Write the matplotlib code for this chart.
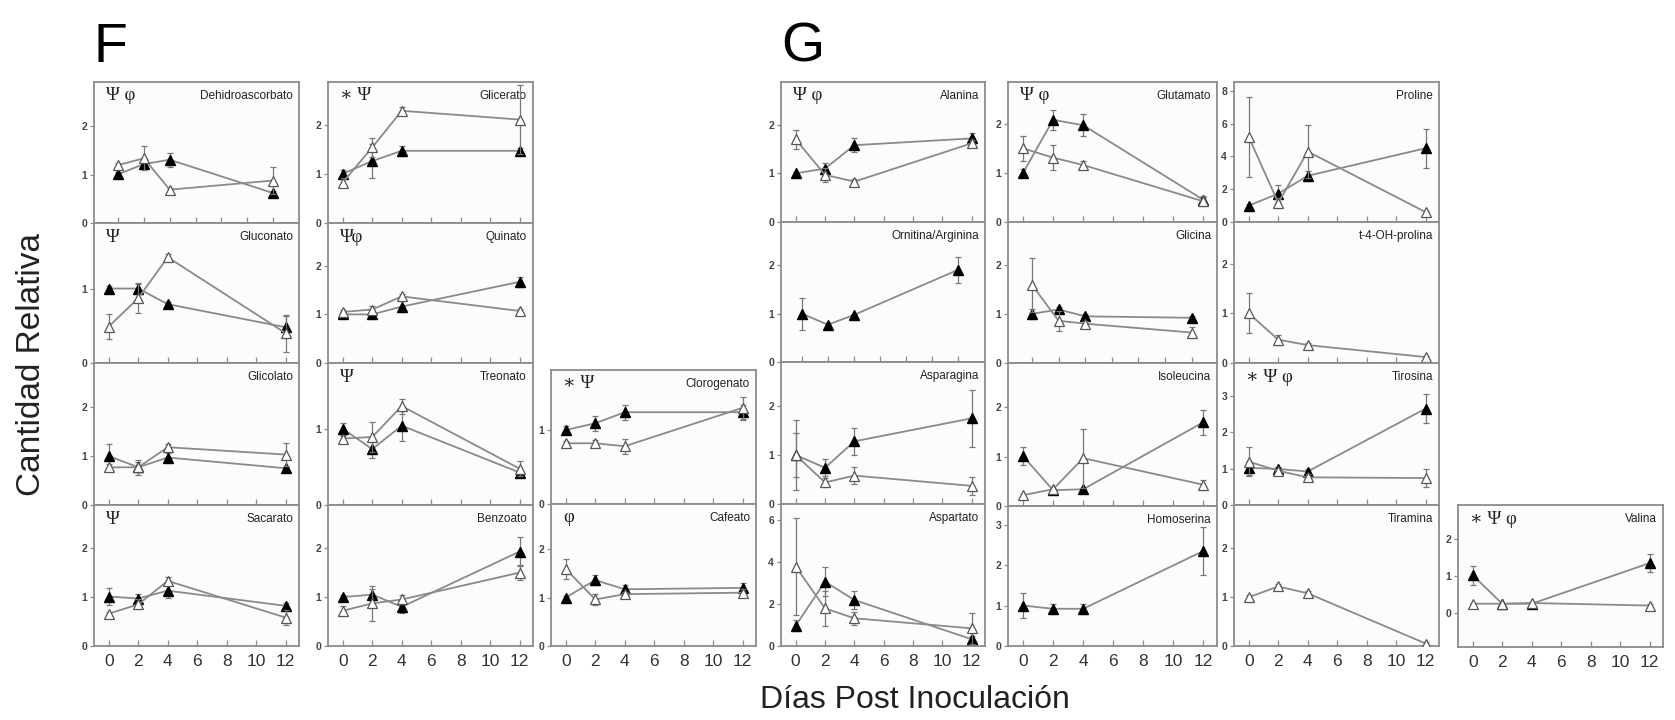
import numpy as np
import matplotlib
matplotlib.use('Agg')
import matplotlib.pyplot as plt

plt.rcParams['font.family'] = ['Liberation Sans', 'DejaVu Sans']

W, H = 1675, 720

days = [0, 2, 4, 12]

# --- F: organic acids ---
dehidro_fill = [1.01, 1.22, 1.31, 0.62]
dehidro_fill_err = [0.04, 0.10, 0.14, 0.05]
dehidro_open = [1.20, 1.34, 0.69, 0.88]
dehidro_open_err = [0.05, 0.25, 0.04, 0.27]

glucon_fill = [1.00, 1.00, 0.79, 0.48]
glucon_fill_err = [0.03, 0.06, 0.03, 0.15]
glucon_open = [0.49, 0.87, 1.42, 0.40]
glucon_open_err = [0.17, 0.20, 0.05, 0.25]

glicol_fill = [1.00, 0.77, 0.97, 0.75]
glicol_fill_err = [0.25, 0.10, 0.10, 0.03]
glicol_open = [0.77, 0.77, 1.18, 1.03]
glicol_open_err = [0.07, 0.15, 0.07, 0.23]

sacar_fill = [1.01, 0.97, 1.13, 0.82]
sacar_fill_err = [0.18, 0.10, 0.15, 0.05]
sacar_open = [0.66, 0.85, 1.33, 0.58]
sacar_open_err = [0.03, 0.10, 0.08, 0.15]

glicer_fill = [1.01, 1.27, 1.48, 1.48]
glicer_fill_err = [0.08, 0.35, 0.10, 0.05]
glicer_open = [0.83, 1.55, 2.30, 2.12]
glicer_open_err = [0.10, 0.20, 0.07, 0.70]

quin_fill = [1.00, 1.00, 1.16, 1.67]
quin_fill_err = [0.03, 0.10, 0.12, 0.10]
quin_open = [1.05, 1.10, 1.37, 1.07]
quin_open_err = [0.04, 0.08, 0.05, 0.04]

treon_fill = [1.01, 0.74, 1.05, 0.43]
treon_fill_err = [0.08, 0.12, 0.20, 0.04]
treon_open = [0.88, 0.90, 1.31, 0.48]
treon_open_err = [0.04, 0.20, 0.10, 0.10]

benz_fill = [1.00, 1.05, 0.80, 1.93]
benz_fill_err = [0.04, 0.12, 0.12, 0.30]
benz_open = [0.72, 0.87, 0.95, 1.50]
benz_open_err = [0.10, 0.35, 0.10, 0.15]

cloro_fill = [1.00, 1.09, 1.24, 1.24]
cloro_fill_err = [0.05, 0.10, 0.10, 0.10]
cloro_open = [0.82, 0.82, 0.78, 1.30]
cloro_open_err = [0.03, 0.05, 0.10, 0.15]

cafe_fill = [1.00, 1.36, 1.17, 1.20]
cafe_fill_err = [0.03, 0.10, 0.08, 0.10]
cafe_open = [1.59, 0.96, 1.07, 1.10]
cafe_open_err = [0.20, 0.12, 0.04, 0.08]

# --- G: amino acids ---
alan_fill = [1.00, 1.10, 1.58, 1.72]
alan_fill_err = [0.03, 0.12, 0.15, 0.12]
alan_open = [1.70, 0.97, 0.83, 1.62]
alan_open_err = [0.20, 0.15, 0.05, 0.07]

ornarg_fill = [1.00, 0.77, 0.97, 1.90]
ornarg_fill_err = [0.33, 0.03, 0.03, 0.27]

aspn_fill = [1.00, 0.74, 1.28, 1.75]
aspn_fill_err = [0.45, 0.17, 0.28, 0.58]
aspn_open = [1.00, 0.44, 0.58, 0.37]
aspn_open_err = [0.72, 0.10, 0.18, 0.18]

aspt_fill = [0.97, 3.06, 2.19, 0.32]
aspt_fill_err = [0.25, 0.70, 0.45, 0.15]
aspt_open = [3.78, 1.79, 1.32, 0.84]
aspt_open_err = [2.30, 0.85, 0.30, 0.75]

glut_fill = [1.00, 2.08, 1.97, 0.45]
glut_fill_err = [0.08, 0.20, 0.22, 0.05]
glut_open = [1.50, 1.31, 1.16, 0.42]
glut_open_err = [0.25, 0.25, 0.08, 0.10]

glic_fill = [1.00, 1.09, 0.95, 0.92]
glic_fill_err = [0.10, 0.05, 0.04, 0.03]
glic_open = [1.59, 0.86, 0.80, 0.62]
glic_open_err = [0.55, 0.20, 0.05, 0.12]

isol_fill = [1.01, 0.32, 0.34, 1.70]
isol_fill_err = [0.18, 0.03, 0.03, 0.25]
isol_open = [0.22, 0.34, 0.97, 0.43]
isol_open_err = [0.03, 0.03, 0.60, 0.10]

homos_fill = [1.00, 0.92, 0.92, 2.35]
homos_fill_err = [0.30, 0.12, 0.12, 0.60]

prol_fill = [1.00, 1.73, 2.82, 4.50]
prol_fill_err = [0.10, 0.50, 0.30, 1.20]
prol_open = [5.19, 1.17, 4.30, 0.60]
prol_open_err = [2.45, 0.30, 1.60, 0.10]

t4oh_open = [1.00, 0.47, 0.36, 0.12]
t4oh_open_err = [0.40, 0.10, 0.05, 0.03]

tiros_fill = [1.02, 0.99, 0.92, 2.65]
tiros_fill_err = [0.20, 0.05, 0.08, 0.40]
tiros_open = [1.19, 0.94, 0.76, 0.74]
tiros_open_err = [0.40, 0.05, 0.08, 0.25]

tiram_open = [1.00, 1.22, 1.08, 0.05]
tiram_open_err = [0.04, 0.05, 0.04, 0.03]

val_fill = [1.02, 0.25, 0.25, 1.35]
val_fill_err = [0.25, 0.03, 0.03, 0.25]
val_open = [0.25, 0.25, 0.27, 0.20]
val_open_err = [0.03, 0.03, 0.03, 0.03]

xtick_vals = [0, 2, 4, 6, 8, 10, 12]

# columns: left px, width px
cols = {'F1': (94, 205), 'F2': (328, 205), 'F3': (551, 205),
        'G1': (781, 204), 'G2': (1008, 209), 'G3': (1234, 205), 'G4': (1458, 205)}

XL = (-1.0, 12.9)

# name, col, top px, bottom px, xlim, ylim, yticks, symbols, fill, fill_err, open, open_err, bottom row
panels = [
    ('Dehidroascorbato', 'F1', 82, 223, (-1.86, 14.0), (0, 2.92), [0, 1, 2], 'Ψ φ',
     dehidro_fill, dehidro_fill_err, dehidro_open, dehidro_open_err, False),
    ('Gluconato', 'F1', 223, 363, XL, (0, 1.88), [0, 1], 'Ψ',
     glucon_fill, glucon_fill_err, glucon_open, glucon_open_err, False),
    ('Glicolato', 'F1', 363, 505, XL, (0, 2.9), [0, 1, 2], '',
     glicol_fill, glicol_fill_err, glicol_open, glicol_open_err, False),
    ('Sacarato', 'F1', 505, 646, XL, (0, 2.88), [0, 1, 2], 'Ψ',
     sacar_fill, sacar_fill_err, sacar_open, sacar_open_err, True),
    ('Glicerato', 'F2', 82, 223, XL, (0, 2.89), [0, 1, 2], '∗ Ψ',
     glicer_fill, glicer_fill_err, glicer_open, glicer_open_err, False),
    ('Quinato', 'F2', 223, 363, XL, (0, 2.88), [0, 1, 2], 'Ψφ',
     quin_fill, quin_fill_err, quin_open, quin_open_err, False),
    ('Treonato', 'F2', 363, 505, XL, (0, 1.88), [0, 1], 'Ψ',
     treon_fill, treon_fill_err, treon_open, treon_open_err, False),
    ('Benzoato', 'F2', 505, 646, XL, (0, 2.88), [0, 1, 2], '',
     benz_fill, benz_fill_err, benz_open, benz_open_err, True),
    ('Clorogenato', 'F3', 370, 504, XL, (0, 1.81), [0, 1], '∗ Ψ',
     cloro_fill, cloro_fill_err, cloro_open, cloro_open_err, False),
    ('Cafeato', 'F3', 504, 646, XL, (0, 2.93), [0, 1, 2], 'φ',
     cafe_fill, cafe_fill_err, cafe_open, cafe_open_err, True),
    ('Alanina', 'G1', 82, 222, XL, (0, 2.88), [0, 1, 2], 'Ψ φ',
     alan_fill, alan_fill_err, alan_open, alan_open_err, False),
    ('Ornitina/Arginina', 'G1', 222, 362, (-1.6, 14.1), (0, 2.89), [0, 1, 2], '',
     ornarg_fill, ornarg_fill_err, None, None, False),
    ('Asparagina', 'G1', 362, 504, XL, (0, 2.9), [0, 1, 2], '',
     aspn_fill, aspn_fill_err, aspn_open, aspn_open_err, False),
    ('Aspartato', 'G1', 504, 646, XL, (0, 6.76), [0, 2, 4, 6], '',
     aspt_fill, aspt_fill_err, aspt_open, aspt_open_err, True),
    ('Glutamato', 'G2', 82, 222, XL, (0, 2.85), [0, 1, 2], 'Ψ φ',
     glut_fill, glut_fill_err, glut_open, glut_open_err, False),
    ('Glicina', 'G2', 222, 363, (-1.8, 13.9), (0, 2.87), [0, 1, 2], '',
     glic_fill, glic_fill_err, glic_open, glic_open_err, False),
    ('Isoleucina', 'G2', 363, 506, XL, (0, 2.9), [0, 1, 2], '',
     isol_fill, isol_fill_err, isol_open, isol_open_err, False),
    ('Homoserina', 'G2', 506, 646, XL, (0, 3.46), [0, 1, 2, 3], '',
     homos_fill, homos_fill_err, None, None, True),
    ('Proline', 'G3', 82, 222, XL, (0, 8.54), [0, 2, 4, 6, 8], '',
     prol_fill, prol_fill_err, prol_open, prol_open_err, False),
    ('t-4-OH-prolina', 'G3', 222, 363, XL, (0, 2.84), [0, 1, 2], '',
     None, None, t4oh_open, t4oh_open_err, False),
    ('Tirosina', 'G3', 363, 505, XL, (0, 3.9), [0, 1, 2, 3], '∗ Ψ φ',
     tiros_fill, tiros_fill_err, tiros_open, tiros_open_err, False),
    ('Tiramina', 'G3', 505, 646, XL, (0, 2.89), [0, 1, 2], '',
     None, None, tiram_open, tiram_open_err, True),
    ('Valina', 'G4', 505, 647, XL, (-0.92, 2.92), [0, 1, 2], '∗ Ψ φ',
     val_fill, val_fill_err, val_open, val_open_err, True),
]

line_c = '#8a8a8a'
spine_c = '#8c8c8c'

fig = plt.figure(figsize=(W / 100, H / 100), dpi=100)
fig.patch.set_facecolor('white')

for (name, col, top, bot, xlim, ylim, yticks, sym,
     f_vals, f_err, o_vals, o_err, bottom_row) in panels:
    left, width = cols[col]
    ax = fig.add_axes([left / W, 1 - bot / H, width / W, (bot - top) / H])
    ax.set_facecolor('#fcfcfc')
    for s in ax.spines.values():
        s.set_color(spine_c)
        s.set_linewidth(1.3)

    # filled = one series, open = the other; open drawn on top
    if f_vals is not None:
        ax.errorbar(days, f_vals, yerr=f_err, fmt='none', ecolor='#777777',
                    elinewidth=0.9, capsize=2, capthick=0.9, zorder=2)
        ax.plot(days, f_vals, color=line_c, lw=1.3, marker='^', ms=6.5,
                mfc='black', mec='black', zorder=3)
    if o_vals is not None:
        ax.errorbar(days, o_vals, yerr=o_err, fmt='none', ecolor='#777777',
                    elinewidth=0.9, capsize=2, capthick=0.9, zorder=4)
        ax.plot(days, o_vals, color=line_c, lw=1.3, marker='^', ms=6.5,
                mfc='white', mec='#555555', mew=0.9, zorder=5)

    ax.set_xlim(*xlim)
    ax.set_ylim(*ylim)
    ax.set_xticks(xtick_vals)
    ax.set_yticks(yticks)
    ax.tick_params(axis='x', direction='in', length=4, width=0.9, color=spine_c,
                   labelsize=12.5, labelcolor='#333333', pad=6)
    ax.tick_params(axis='y', direction='out', length=3, width=0.9, color=spine_c,
                   labelsize=7.5, labelcolor='#444444', pad=2)
    for lab in ax.get_yticklabels():
        lab.set_fontweight('bold')
    if not bottom_row:
        ax.set_xticklabels([])

    ax.text(1 - 6 / width, 1 - 14 / (bot - top), name, transform=ax.transAxes,
            ha='right', va='center', fontsize=8.5, color='#222222')
    if sym:
        ax.text(12 / width, 1 - 14 / (bot - top), sym, transform=ax.transAxes,
                ha='left', va='center', fontsize=13.5,
                family=['Liberation Serif', 'DejaVu Serif'], color='#222222')

fig.text(94 / W, 1 - 62 / H, 'F', fontsize=40, ha='left', va='baseline')
fig.text(781 / W, 1 - 62 / H, 'G', fontsize=40, ha='left', va='baseline')
fig.text(32 / W, 1 - 364 / H, 'Cantidad Relativa', fontsize=24, rotation=90,
         ha='center', va='center', color='#222222')
fig.text(915 / W, 1 - 700 / H, 'Días Post Inoculación', fontsize=23,
         ha='center', va='center', color='#222222')

fig.savefig('out.png', dpi=100)
